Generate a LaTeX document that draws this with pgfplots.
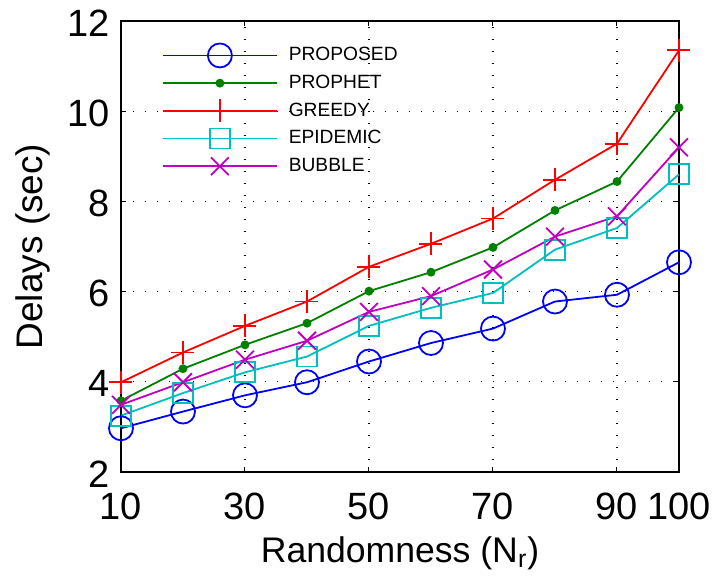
\documentclass[border=0pt]{standalone}
\usepackage{fontspec}
\setmainfont{Liberation Sans}
\usepackage{pgfplots}
\pgfplotsset{compat=1.18}
\definecolor{mblue}{rgb}{0,0,1}
\definecolor{mgreen}{rgb}{0,0.5,0}
\definecolor{mred}{rgb}{1,0,0}
\definecolor{mcyan}{rgb}{0,0.75,0.75}
\definecolor{mmag}{rgb}{0.75,0,0.75}
\begin{document}
\begin{tikzpicture}
\begin{axis}[
  scale only axis,
  width=279pt, height=225.5pt,
  xmin=10, xmax=100, ymin=2, ymax=12,
  xtick={10,30,50,70,90,100},
  ytick={2,4,6,8,10,12},
  tick align=inside,
  major tick length=2.5pt,
  tick style={black, line width=0.5pt},
  axis line style={black, line width=0.7pt},
  grid=major,
  major grid style={black, line width=0.6pt, dash pattern=on 0.6pt off 5.4pt},
  /pgf/number format/assume math mode=true,
  ticklabel style={font=\fontsize{19}{22}\selectfont, inner sep=0pt},
  xticklabel style={anchor=base, yshift=-23.75pt},
  yticklabel style={anchor=east, xshift=-5.5pt, yshift=-1pt},
  xlabel={Randomness (N\textsubscript{r})},
  ylabel={Delays (sec)},
  xlabel style={font=\fontsize{17.8}{20}\selectfont, at={(axis description cs:0.5,0)}, anchor=base, yshift=-45.25pt},
  ylabel style={font=\fontsize{18.5}{20}\selectfont, at={(axis description cs:-0.14,0.5)}, anchor=base},
  legend style={draw=none, fill=none, inner sep=0pt, outer sep=0pt,
    at={(axis description cs:0,1)}, anchor=north west, xshift=20.5pt, yshift=-10.3pt,
    font=\fontsize{9.6}{12}\selectfont, row sep=0pt, column sep=5.5pt,
    nodes={inner sep=0pt, minimum height=13.85pt}},
  legend cell align=left,
  legend image code/.code={\draw[line width=0.9pt, mark repeat=2,mark phase=2] plot coordinates {(0pt,0pt) (28.5pt,0pt) (57pt,0pt)};},
  every axis plot/.append style={line width=0.9pt},
]
\addplot[mblue, mark=o, mark size=6pt] coordinates {
(10,2.97) (20,3.34) (30,3.70) (40,3.99) (50,4.45) (60,4.86) (70,5.18) (80,5.78) (90,5.93) (100,6.65)};
\addlegendentry{PROPOSED}
\addplot[mgreen, mark=*, mark size=1.75pt] coordinates {
(10,3.58) (20,4.29) (30,4.82) (40,5.30) (50,6.01) (60,6.43) (70,6.98) (80,7.80) (90,8.44) (100,10.08)};
\addlegendentry{PROPHET}
\addplot[mred, mark=+, mark size=5.75pt] coordinates {
(10,3.99) (20,4.65) (30,5.24) (40,5.78) (50,6.55) (60,7.06) (70,7.62) (80,8.48) (90,9.28) (100,11.35)};
\addlegendentry{GREEDY}
\addplot[mcyan, mark=square, mark size=5pt] coordinates {
(10,3.25) (20,3.75) (30,4.21) (40,4.56) (50,5.24) (60,5.64) (70,5.97) (80,6.93) (90,7.41) (100,8.60)};
\addlegendentry{EPIDEMIC}
\addplot[mmag, mark=x, mark size=6.3pt] coordinates {
(10,3.49) (20,3.99) (30,4.49) (40,4.91) (50,5.55) (60,5.90) (70,6.49) (80,7.22) (90,7.67) (100,9.20)};
\addlegendentry{BUBBLE}
\end{axis}
\pgfresetboundingbox
\path[use as bounding box] ([shift={(-60.5pt,-55.75pt)}]current axis.south west) rectangle ([shift={(17pt,10.5pt)}]current axis.north east);
\end{tikzpicture}
\end{document}
